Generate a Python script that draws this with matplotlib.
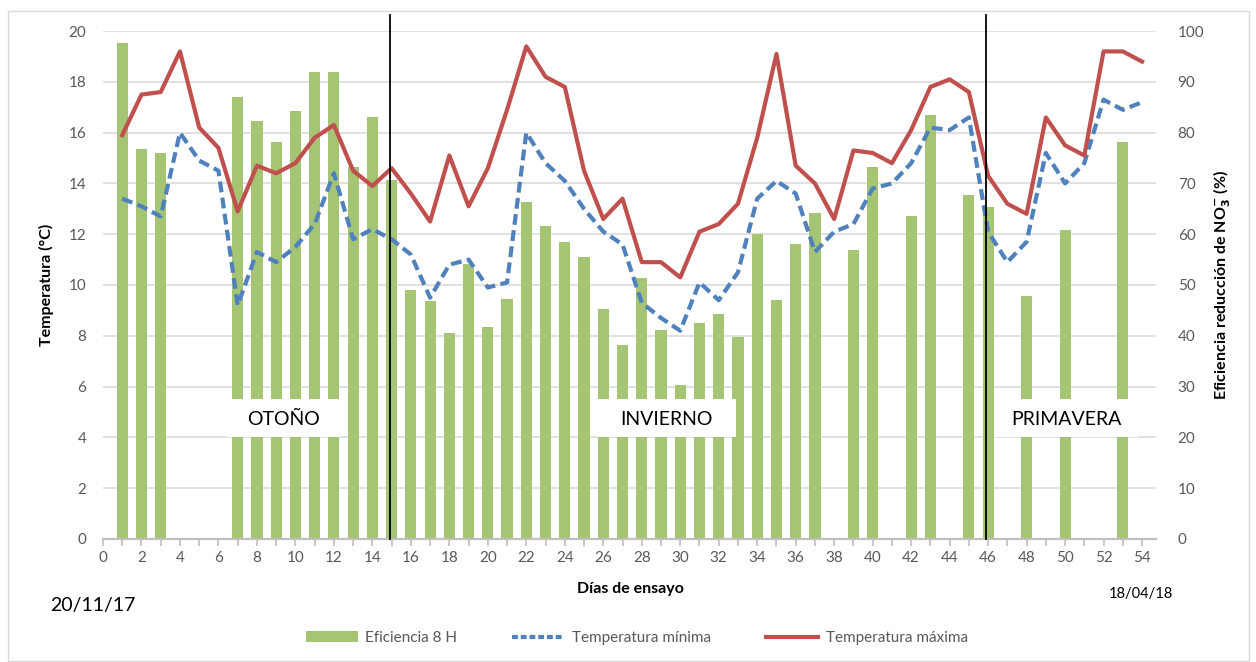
import matplotlib.pyplot as plt
from matplotlib.patches import Patch, Rectangle
from matplotlib.lines import Line2D
from matplotlib.ticker import MultipleLocator

plt.rcParams['font.family'] = ['Lato', 'DejaVu Sans']

# data
days = list(range(1, 55))
t_max = [15.9, 17.5, 17.6, 19.2, 16.2, 15.4, 12.9, 14.7, 14.4, 14.8,
         15.8, 16.3, 14.5, 13.9, 14.6, 13.6, 12.5, 15.1, 13.1, 14.6,
         16.9, 19.4, 18.2, 17.8, 14.5, 12.6, 13.4, 10.9, 10.9, 10.3,
         12.1, 12.4, 13.2, 15.8, 19.1, 14.7, 14.0, 12.6, 15.3, 15.2,
         14.8, 16.1, 17.8, 18.1, 17.6, 14.3, 13.2, 12.8, 16.6, 15.5,
         15.1, 19.2, 19.2, 18.8]
t_min = [13.4, 13.1, 12.7, 16.0, 14.9, 14.5, 9.2, 11.3, 10.9, 11.5,
         12.4, 14.4, 11.8, 12.2, 11.8, 11.2, 9.5, 10.8, 11.0, 9.9,
         10.1, 16.0, 14.8, 14.1, 13.0, 12.1, 11.6, 9.3, 8.7, 8.2,
         10.1, 9.4, 10.5, 13.4, 14.1, 13.6, 11.3, 12.1, 12.4, 13.8,
         14.0, 14.8, 16.2, 16.1, 16.6, 12.1, 10.9, 11.7, 15.2, 14.0,
         14.8, 17.3, 16.9, 17.2]
eff_days = [1, 2, 3, 7, 8, 9, 10, 11, 12, 13, 14, 15, 16, 17, 18, 19, 20,
            21, 22, 23, 24, 25, 26, 27, 28, 29, 30, 31, 32, 33, 34, 35, 36,
            37, 39, 40, 42, 43, 45, 46, 48, 50, 53]
eff_8h = [97.7, 76.7, 76.0, 87.0, 82.3, 78.2, 84.3, 92.0, 92.0, 73.3, 83.1,
          70.6, 49.0, 46.8, 40.6, 54.1, 41.7, 47.3, 66.3, 61.7, 58.5, 55.5,
          45.3, 38.1, 51.3, 41.2, 30.3, 42.5, 44.2, 39.7, 60.0, 47.0, 58.0,
          64.1, 56.9, 73.3, 63.6, 83.4, 67.7, 65.3, 47.8, 60.8, 78.2]
seasons = ['OTOÑO', 'INVIERNO', 'PRIMAVERA']
season_boxes = [(6.45, 12.3), (25.7, 32.9), (46.3, 53.8)]
season_lines = [14.9, 45.9]

green = '#a6c574'
blue = '#4f81bd'
red = '#c0504d'
grey_txt = '#595959'

fig = plt.figure(figsize=(12.56, 6.62), dpi=100)
ax = fig.add_axes([0.082, 0.186, 0.838, 0.767])
ax2 = ax.twinx()
ax.set_zorder(ax2.get_zorder() + 1)
ax.patch.set_visible(False)

# bars on the right (efficiency) axis
ax2.bar(eff_days, eff_8h, width=0.58, color=green, zorder=2)
ax2.set_ylim(0, 100)
ax2.yaxis.set_major_locator(MultipleLocator(10))
ax2.grid(axis='y', color='#d9d9d9', lw=1.1, zorder=0)
ax2.set_axisbelow(True)

# temperature lines on the left axis
ax.plot(days, t_min, color=blue, lw=3.0, dashes=(2.6, 1.3), zorder=4)
ax.plot(days, t_max, color=red, lw=3.0, zorder=5)
ax.set_ylim(0, 20)
ax.set_xlim(0, 54.7)
ax.yaxis.set_major_locator(MultipleLocator(2))
ax.xaxis.set_major_locator(MultipleLocator(2))
ax.xaxis.set_minor_locator(MultipleLocator(1))

for a in (ax, ax2):
    for s in ('top', 'left', 'right'):
        a.spines[s].set_visible(False)
    a.spines['bottom'].set_color('#bfbfbf')
    a.spines['bottom'].set_linewidth(1.5)
    a.tick_params(axis='y', length=0, labelsize=11, labelcolor=grey_txt, pad=12)
ax.tick_params(axis='x', which='both', length=5, width=1.2, color='#bfbfbf',
               labelsize=11, labelcolor=grey_txt, pad=4)
ax2.tick_params(axis='y', pad=16)

# season boxes and dividers
for name, (x0, x1) in zip(seasons, season_boxes):
    ax.add_patch(Rectangle((x0, 4.0), x1 - x0, 1.5, facecolor='white',
                           edgecolor='none', zorder=3))
    ax.text((x0 + x1) / 2, 4.72, name, ha='center', va='center',
            fontsize=14, color='black', zorder=6)
for xl in season_lines:
    ax.plot([xl, xl], [0, 20.63], color='black', lw=1.3, clip_on=False, zorder=6)

fig.text(0.037, 0.57, 'Temperatura (°C)', rotation=90, ha='center',
         va='center', fontsize=11.5, fontweight='bold')
fig.text(0.973, 0.57, r'Eficiencia reducción de NO$_\mathbf{3}^{\mathbf{-}}$ (%)',
         rotation=90, ha='center', va='center', fontsize=11.5, fontweight='bold')
fig.text(0.502, 0.110, 'Días de ensayo', ha='center', va='center',
         fontsize=11.5, fontweight='bold')
fig.text(0.074, 0.086, '20/11/17', ha='center', va='center', fontsize=14)
fig.text(0.908, 0.103, '18/04/18', ha='center', va='center', fontsize=10.5)

handles = [Patch(facecolor=green, edgecolor='none'),
           Line2D([], [], color=blue, lw=3.0, dashes=(1.4, 0.7)),
           Line2D([], [], color=red, lw=3.0)]
labels = ['Eficiencia 8 H', 'Temperatura mínima', 'Temperatura máxima']
fig.legend(handles, labels, loc='center', bbox_to_anchor=(0.507, 0.036),
           ncol=3, frameon=False, fontsize=11, labelcolor=grey_txt,
           handlelength=3.4, handletextpad=0.5, columnspacing=3.6)

fig.add_artist(Rectangle((8 / 1256, 1 / 662), 1241 / 1256, 650 / 662,
                         transform=fig.transFigure, fill=False,
                         edgecolor='#d9d9d9', lw=1))

fig.savefig('out.png', dpi=100)
